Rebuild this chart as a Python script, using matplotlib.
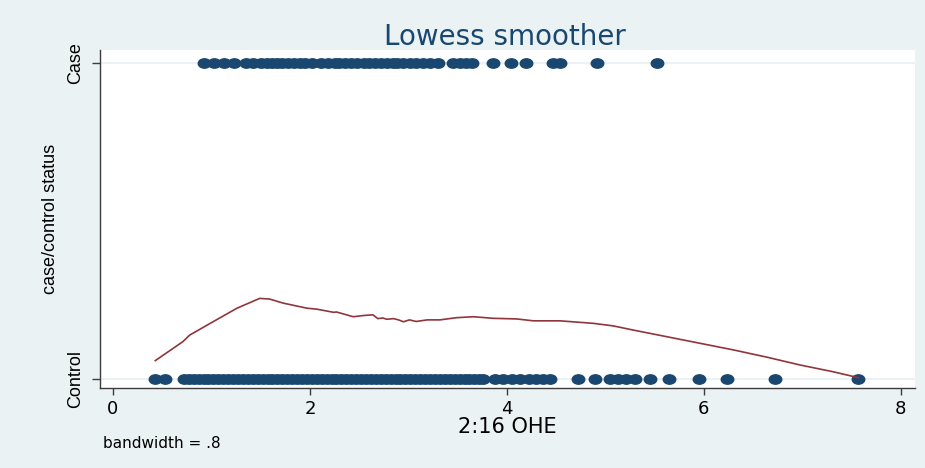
import matplotlib
matplotlib.use("Agg")
import matplotlib.pyplot as plt
from matplotlib.path import Path
from matplotlib.transforms import Affine2D

# 2:16 OHE values for cases (status = 1)
case_x = [0.93, 1.03, 1.13, 1.23,
          1.35, 1.42, 1.50, 1.56, 1.62, 1.67, 1.72, 1.78, 1.84, 1.90, 1.95,
          2.02, 2.11, 2.18, 2.25, 2.30, 2.36, 2.42, 2.48, 2.55, 2.60, 2.66,
          2.72, 2.78, 2.84, 2.88,
          2.95, 3.02, 3.08, 3.15, 3.22, 3.30,
          3.45, 3.52, 3.58, 3.65,
          3.86, 4.04, 4.19, 4.47, 4.54, 4.92, 5.52]

# 2:16 OHE values for controls (status = 0)
control_x = [0.43, 0.53,
             0.72, 0.77, 0.82, 0.87, 0.92, 0.97, 1.02, 1.07, 1.12, 1.17,
             1.22, 1.27, 1.32, 1.37, 1.42, 1.47, 1.52, 1.57, 1.62, 1.67,
             1.72, 1.77, 1.82, 1.87, 1.92, 1.97, 2.02, 2.07, 2.12, 2.17,
             2.22, 2.27, 2.32, 2.37, 2.42, 2.47, 2.52, 2.57, 2.62, 2.67,
             2.72, 2.77, 2.82, 2.87, 2.92, 2.97, 3.02, 3.07, 3.12, 3.17,
             3.22, 3.27, 3.32, 3.37, 3.42, 3.47, 3.52, 3.57, 3.62, 3.67,
             3.72, 3.76,
             3.88, 3.96, 4.05, 4.13, 4.22, 4.30, 4.37, 4.44,
             4.72, 4.89, 5.05, 5.13, 5.21, 5.30, 5.45, 5.65, 5.95, 6.23,
             6.72, 7.57]

# Lowess fit (bandwidth = .8)
lowess_x = [0.43, 0.71, 0.78, 1.05, 1.26, 1.49, 1.59, 1.73, 1.97, 2.07,
            2.24, 2.27, 2.44, 2.55, 2.64, 2.69, 2.74, 2.78, 2.85, 2.90,
            2.95, 3.01, 3.08, 3.19, 3.32, 3.49, 3.66, 3.86, 4.10, 4.27,
            4.54, 4.88, 5.08, 5.28, 5.62, 5.96, 6.30, 6.64, 6.98, 7.31,
            7.57]
lowess_y = [0.058, 0.118, 0.139, 0.187, 0.224, 0.255, 0.253, 0.240, 0.224,
            0.221, 0.211, 0.212, 0.197, 0.201, 0.203, 0.191, 0.193, 0.189,
            0.191, 0.187, 0.181, 0.187, 0.182, 0.187, 0.187, 0.194, 0.197,
            0.192, 0.190, 0.184, 0.184, 0.176, 0.168, 0.155, 0.134, 0.113,
            0.092, 0.069, 0.044, 0.023, 0.004]

status_ticks = [0, 1]
status_labels = ["Control", "Case"]
x_ticks = [0, 2, 4, 6, 8]

BG = "#eaf2f3"
NAVY = "#1a476f"
MAROON = "#90353b"
AXIS = "#3c3c3c"
NARROW = ["Liberation Sans", "DejaVu Sans"]
WIDE = ["DejaVu Sans"]

# slightly flattened circle for the scatter markers
dot = Path.unit_circle().transformed(Affine2D().scale(1.0, 0.75))

fig = plt.figure(figsize=(9.25, 4.68), dpi=100, facecolor=BG)
ax = fig.add_axes([0.108, 0.171, 0.881, 0.722])
ax.set_facecolor("white")

for t in status_ticks:
    ax.axhline(t, color=BG, lw=1.4, zorder=0)

ax.plot(case_x, [1] * len(case_x), ls="none", marker=dot, ms=9,
        color=NAVY, zorder=2)
ax.plot(control_x, [0] * len(control_x), ls="none", marker=dot, ms=9,
        color=NAVY, zorder=2)
ax.plot(lowess_x, lowess_y, color=MAROON, lw=1.2, zorder=3)

ax.set_xlim(-0.132, 8.142)
ax.set_ylim(-0.0285, 1.041)

for side in ("top", "right"):
    ax.spines[side].set_visible(False)
for side in ("left", "bottom"):
    ax.spines[side].set_color(AXIS)
    ax.spines[side].set_linewidth(1.0)

ax.set_xticks(x_ticks)
ax.set_xticklabels([str(v) for v in x_ticks], family=WIDE, fontsize=13)
ax.tick_params(axis="x", length=5, width=1, color=AXIS, pad=4)

ax.set_yticks(status_ticks)
ax.set_yticklabels(status_labels, family=NARROW, fontsize=13,
                   rotation=90, va="center")
ax.tick_params(axis="y", length=6, width=1, color=AXIS, pad=5)

ax.set_xlabel("2:16 OHE", family=WIDE, fontsize=15, labelpad=-1)
ax.set_ylabel("case/control status", family=NARROW, fontsize=13,
              labelpad=6)

fig.text(0.546, 0.921, "Lowess smoother", family=WIDE, fontsize=20,
         color=NAVY, ha="center", va="center")
fig.text(0.111, 0.052, "bandwidth = .8", family=WIDE, fontsize=11,
         ha="left", va="center")

fig.savefig("out.png", dpi=100, facecolor=BG)
